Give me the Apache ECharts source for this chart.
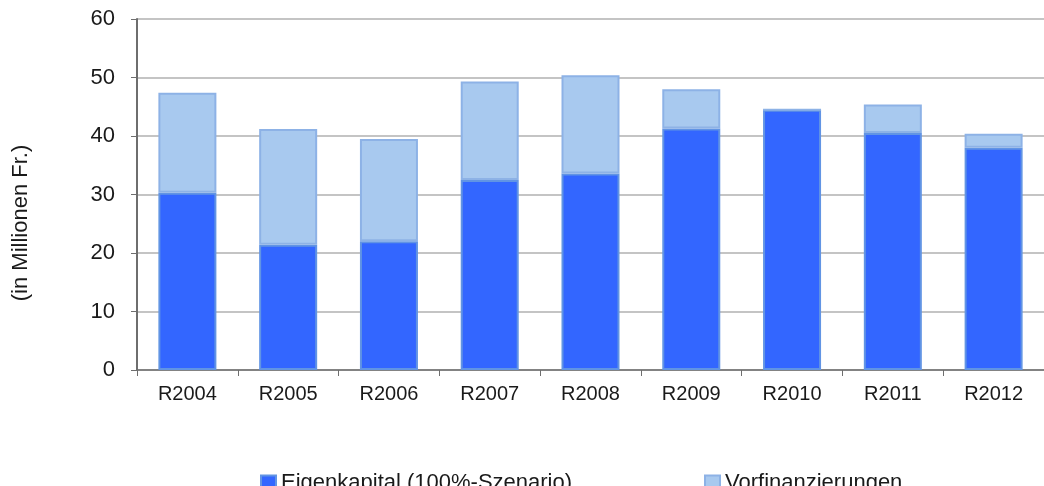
<!DOCTYPE html>
<html>
<head>
<meta charset="utf-8">
<script src="https://cdn.jsdelivr.net/npm/echarts@6/dist/echarts.min.js"></script>
<style>
  html, body { margin: 0; padding: 0; background: #fff; overflow: hidden; }
  #chart { width: 1044px; height: 486px; }
</style>
</head>
<body>
<div id="chart"></div>
<script>
const categories = ["R2004", "R2005", "R2006", "R2007", "R2008", "R2009", "R2010", "R2011", "R2012"];
const eigenkapital = [30.3, 21.4, 22.0, 32.5, 33.6, 41.3, 44.5, 40.5, 38.0];
const vorfinanzierungen = [17.1, 19.8, 17.5, 16.8, 16.8, 6.7, 0, 4.9, 2.4];
const yTicks = { min: 0, max: 60, interval: 10 };
const yTitle = "(in Millionen Fr.)";

const font = "'Liberation Sans', Arial, sans-serif";
const chart = echarts.init(document.getElementById("chart"));

const legendText = { fontSize: 22, color: "#1a1a1a", fontFamily: font, lineHeight: 16 };

const option = {
  animation: false,
  textStyle: { fontFamily: font },
  // plot runs past the right edge, like in the cropped original
  grid: { left: 137, top: 19, width: 919, bottom: 116 },
  legend: [
    {
      data: ["Eigenkapital (100%-Szenario)"],
      left: 255, top: 467,
      itemWidth: 15, itemHeight: 15,
      icon: "rect",
      textStyle: legendText
    },
    {
      data: ["Vorfinanzierungen"],
      left: 699, top: 467,
      itemWidth: 15, itemHeight: 15,
      icon: "rect",
      textStyle: legendText
    }
  ],
  graphic: [
    {
      type: "text",
      x: 21, y: 223,
      rotation: Math.PI / 2,
      style: {
        text: yTitle,
        font: "22px " + font,
        fill: "#1a1a1a",
        align: "center",
        verticalAlign: "middle"
      }
    }
  ],
  xAxis: {
    type: "category",
    data: categories,
    axisLine: { lineStyle: { color: "#6e6e6e", width: 1.5 } },
    axisTick: { show: true, length: 6, lineStyle: { color: "#6e6e6e" } },
    axisLabel: { fontSize: 20, color: "#1a1a1a", margin: 14, fontFamily: font }
  },
  yAxis: {
    type: "value",
    min: yTicks.min, max: yTicks.max, interval: yTicks.interval,
    axisLine: { show: true, lineStyle: { color: "#6e6e6e", width: 2 } },
    axisTick: { show: true, length: 6, lineStyle: { color: "#6e6e6e" } },
    axisLabel: { fontSize: 22, color: "#1a1a1a", margin: 22, fontFamily: font },
    splitLine: { lineStyle: { color: "#b0b0b0", width: 1.5 } }
  },
  series: [
    {
      name: "Eigenkapital (100%-Szenario)",
      type: "bar",
      stack: "total",
      barWidth: 58,
      data: eigenkapital,
      itemStyle: { color: "#3366ff", borderColor: "#6194e4", borderWidth: 2 }
    },
    {
      name: "Vorfinanzierungen",
      type: "bar",
      stack: "total",
      barWidth: 58,
      data: vorfinanzierungen,
      itemStyle: { color: "#a8c9ef", borderColor: "#8db2e6", borderWidth: 2 }
    }
  ]
};

chart.setOption(option);
</script>
</body>
</html>
